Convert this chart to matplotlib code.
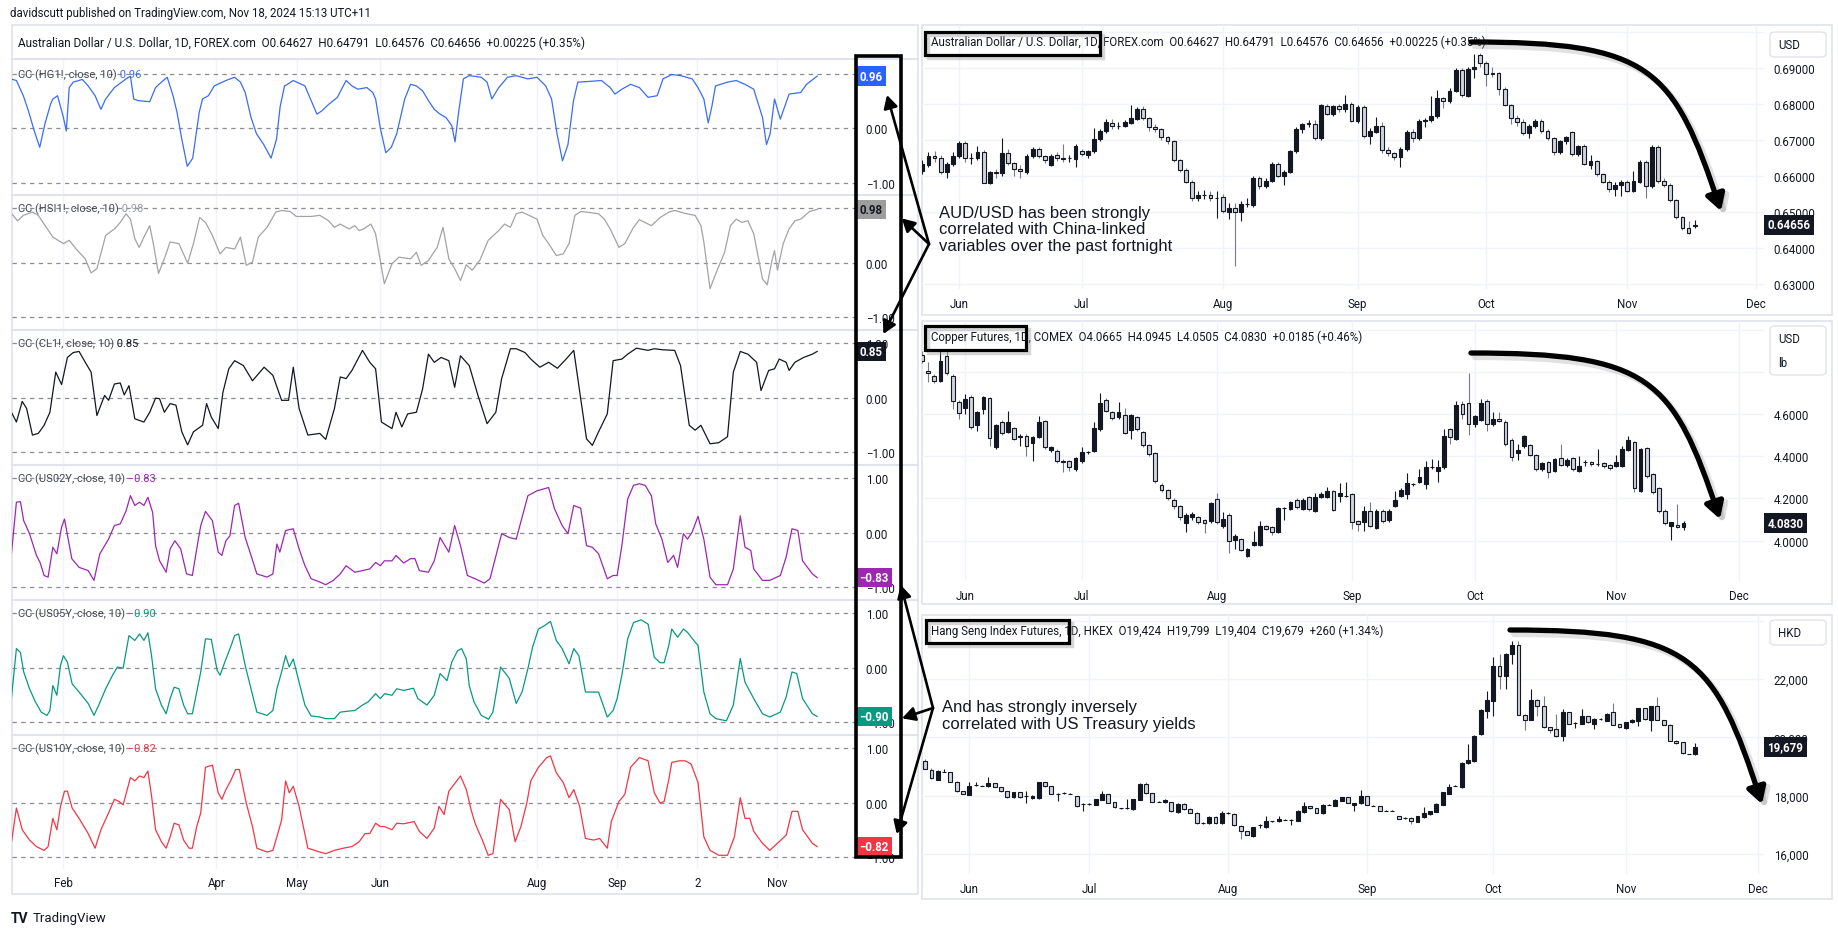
import numpy as np
import pandas as pd
import matplotlib
matplotlib.use("Agg")
import matplotlib.pyplot as plt
from matplotlib.patches import Rectangle, FancyArrowPatch, FancyBboxPatch
from matplotlib.path import Path
from matplotlib.transforms import blended_transform_factory, ScaledTranslation

# ============================ DATA ============================
# AUD/USD daily candles (open, high, low, close) from 2024-05-24 to 2024-11-18
aud_start = "2024-05-24"
aud_holidays = []
aud_ohlc = [
(0.6616,0.6645,0.6605,0.6634),(0.6630,0.6667,0.6625,0.6657),(0.6656,0.6670,0.6640,0.6651),(0.6650,0.6660,0.6605,0.6611),
(0.6611,0.6640,0.6595,0.6634),(0.6634,0.6668,0.6628,0.6657),(0.6656,0.6697,0.6650,0.6692),(0.6692,0.6697,0.6640,0.6650),
(0.6650,0.6665,0.6635,0.6651),(0.6650,0.6685,0.6645,0.6667),(0.6667,0.6672,0.6580,0.6582),(0.6582,0.6615,0.6578,0.6611),
(0.6611,0.6620,0.6595,0.6609),(0.6609,0.6706,0.6600,0.6664),(0.6664,0.6675,0.6630,0.6637),(0.6637,0.6640,0.6600,0.6619),
(0.6619,0.6630,0.6595,0.6616),(0.6613,0.6662,0.6605,0.6657),(0.6657,0.6680,0.6650,0.6676),(0.6676,0.6682,0.6650,0.6657),
(0.6657,0.6660,0.6638,0.6644),(0.6632,0.6662,0.6628,0.6657),(0.6659,0.6668,0.6642,0.6650),(0.6650,0.6690,0.6639,0.6649),
(0.6650,0.6660,0.6640,0.6651),(0.6648,0.6690,0.6625,0.6685),(0.6669,0.6675,0.6655,0.6662),(0.6660,0.6672,0.6650,0.6669),
(0.6669,0.6734,0.6665,0.6704),(0.6704,0.6732,0.6698,0.6727),(0.6727,0.6760,0.6720,0.6750),(0.6748,0.6760,0.6730,0.6739),
(0.6740,0.6752,0.6730,0.6741),(0.6741,0.6755,0.6738,0.6750),(0.6748,0.6799,0.6745,0.6761),(0.6759,0.6792,0.6755,0.6787),
(0.6787,0.6795,0.6755,0.6761),(0.6761,0.6765,0.6725,0.6736),(0.6736,0.6745,0.6722,0.6731),(0.6731,0.6735,0.6702,0.6708),
(0.6708,0.6712,0.6690,0.6697),(0.6697,0.6700,0.6640,0.6644),(0.6644,0.6648,0.6612,0.6618),(0.6618,0.6622,0.6580,0.6583),
(0.6583,0.6590,0.6530,0.6539),(0.6539,0.6560,0.6530,0.6548),(0.6549,0.6562,0.6537,0.6549),(0.6549,0.6558,0.6530,0.6539),
(0.6539,0.6560,0.6483,0.6539),(0.6542,0.6550,0.6498,0.6503),(0.6502,0.6525,0.6480,0.6511),(0.6511,0.6525,0.6352,0.6502),
(0.6500,0.6530,0.6477,0.6523),(0.6523,0.6540,0.6515,0.6524),(0.6520,0.6600,0.6515,0.6594),(0.6594,0.6600,0.6565,0.6572),
(0.6572,0.6595,0.6568,0.6588),(0.6588,0.6640,0.6585,0.6634),(0.6634,0.6640,0.6598,0.6602),(0.6602,0.6618,0.6575,0.6613),
(0.6613,0.6674,0.6608,0.6669),(0.6669,0.6736,0.6665,0.6731),(0.6730,0.6748,0.6720,0.6746),(0.6746,0.6755,0.6738,0.6747),
(0.6745,0.6755,0.6700,0.6706),(0.6706,0.6800,0.6700,0.6798),(0.6796,0.6800,0.6770,0.6773),(0.6773,0.6798,0.6768,0.6794),
(0.6794,0.6800,0.6780,0.6787),(0.6787,0.6826,0.6780,0.6801),(0.6801,0.6806,0.6750,0.6753),(0.6753,0.6798,0.6748,0.6793),
(0.6793,0.6798,0.6705,0.6713),(0.6713,0.6735,0.6690,0.6727),(0.6724,0.6765,0.6720,0.6741),(0.6741,0.6750,0.6665,0.6673),
(0.6673,0.6680,0.6655,0.6665),(0.6665,0.6668,0.6645,0.6654),(0.6653,0.6680,0.6625,0.6676),(0.6676,0.6728,0.6670,0.6722),
(0.6722,0.6730,0.6695,0.6706),(0.6706,0.6758,0.6700,0.6754),(0.6754,0.6762,0.6738,0.6755),(0.6755,0.6822,0.6750,0.6767),
(0.6767,0.6839,0.6762,0.6817),(0.6817,0.6820,0.6790,0.6808),(0.6808,0.6845,0.6805,0.6838),(0.6838,0.6900,0.6835,0.6894),
(0.6894,0.6900,0.6820,0.6826),(0.6824,0.6903,0.6820,0.6898),(0.6897,0.6940,0.6872,0.6903),(0.6938,0.6942,0.6905,0.6915),
(0.6915,0.6920,0.6850,0.6884),(0.6886,0.6905,0.6875,0.6885),(0.6886,0.6890,0.6825,0.6843),(0.6843,0.6848,0.6795,0.6798),
(0.6798,0.6800,0.6745,0.6761),(0.6761,0.6770,0.6740,0.6750),(0.6750,0.6760,0.6715,0.6720),(0.6720,0.6745,0.6705,0.6741),
(0.6741,0.6760,0.6735,0.6754),(0.6754,0.6758,0.6720,0.6727),(0.6727,0.6730,0.6700,0.6706),(0.6706,0.6710,0.6660,0.6667),
(0.6667,0.6700,0.6662,0.6697),(0.6697,0.6712,0.6690,0.6708),(0.6722,0.6725,0.6655,0.6661),(0.6661,0.6688,0.6655,0.6683),
(0.6683,0.6690,0.6630,0.6634),(0.6632,0.6660,0.6620,0.6642),(0.6642,0.6645,0.6600,0.6607),(0.6607,0.6610,0.6580,0.6583),
(0.6583,0.6590,0.6555,0.6565),(0.6565,0.6585,0.6545,0.6576),(0.6576,0.6590,0.6545,0.6583),(0.6583,0.6590,0.6555,0.6560),
(0.6560,0.6615,0.6555,0.6587),(0.6585,0.6645,0.6580,0.6641),(0.6639,0.6645,0.6540,0.6572),(0.6572,0.6688,0.6568,0.6681),
(0.6681,0.6688,0.6580,0.6587),(0.6587,0.6595,0.6570,0.6576),(0.6576,0.6580,0.6528,0.6534),(0.6534,0.6538,0.6480,0.6486),
(0.6486,0.6490,0.6450,0.6456),(0.6456,0.6475,0.6440,0.6443),(0.64627,0.64791,0.64576,0.64656),
]

# Copper futures daily candles from 2024-05-22 to 2024-11-18 (CME holidays skipped)
cu_start = "2024-05-22"
cu_holidays = ["2024-05-27", "2024-06-19", "2024-07-04", "2024-09-02", "2024-11-28", "2024-12-25"]
cu_ohlc = [
(4.880,4.900,4.840,4.850),(4.802,4.845,4.750,4.794),(4.779,4.790,4.745,4.755),(4.758,4.900,4.750,4.853),
(4.876,4.908,4.785,4.794),(4.782,4.790,4.624,4.663),(4.658,4.665,4.576,4.605),(4.627,4.695,4.600,4.671),
(4.682,4.690,4.530,4.537),(4.549,4.615,4.521,4.608),(4.624,4.685,4.600,4.679),(4.674,4.680,4.450,4.486),
(4.442,4.555,4.435,4.549),(4.561,4.570,4.500,4.510),(4.516,4.616,4.510,4.564),(4.532,4.540,4.475,4.482),
(4.489,4.505,4.450,4.497),(4.497,4.505,4.403,4.450),(4.463,4.495,4.379,4.489),(4.489,4.589,4.485,4.561),
(4.565,4.570,4.435,4.442),(4.429,4.450,4.420,4.442),(4.426,4.435,4.370,4.379),(4.376,4.385,4.327,4.374),
(4.376,4.382,4.330,4.347),(4.339,4.395,4.330,4.390),(4.376,4.442,4.370,4.418),(4.418,4.425,4.410,4.418),
(4.426,4.564,4.420,4.534),(4.529,4.700,4.518,4.652),(4.668,4.675,4.610,4.616),(4.608,4.615,4.570,4.579),
(4.584,4.655,4.578,4.608),(4.595,4.627,4.505,4.510),(4.526,4.600,4.482,4.595),(4.584,4.590,4.520,4.529),
(4.513,4.520,4.445,4.453),(4.455,4.460,4.400,4.410),(4.414,4.420,4.275,4.281),(4.264,4.275,4.230,4.238),
(4.238,4.245,4.192,4.200),(4.194,4.200,4.150,4.162),(4.166,4.170,4.100,4.110),(4.082,4.130,4.039,4.123),
(4.110,4.135,4.100,4.126),(4.110,4.118,4.080,4.087),(4.098,4.105,4.036,4.082),(4.091,4.185,4.085,4.178),
(4.197,4.226,4.080,4.087),(4.068,4.137,4.060,4.102),(4.121,4.130,3.941,3.998),(4.003,4.030,3.960,4.023),
(4.008,4.015,3.950,3.957),(3.929,3.965,3.925,3.960),(3.979,4.047,3.975,3.992),(3.979,4.091,3.975,4.068),
(4.068,4.075,4.050,4.055),(4.063,4.070,4.025,4.039),(4.042,4.160,4.035,4.153),(4.153,4.160,4.099,4.153),
(4.150,4.190,4.145,4.181),(4.194,4.200,4.150,4.158),(4.150,4.200,4.145,4.192),(4.205,4.210,4.140,4.150),
(4.140,4.226,4.135,4.205),(4.205,4.230,4.200,4.221),(4.205,4.252,4.200,4.237),(4.233,4.240,4.140,4.147),
(4.213,4.273,4.181,4.224),(4.213,4.276,4.205,4.213),(4.221,4.228,4.055,4.090),(4.091,4.098,4.047,4.079),
(4.087,4.166,4.047,4.139),(4.139,4.181,4.065,4.071),(4.060,4.150,4.055,4.142),(4.142,4.150,4.085,4.094),
(4.099,4.148,4.090,4.142),(4.166,4.237,4.160,4.194),(4.210,4.250,4.205,4.241),(4.221,4.320,4.197,4.273),
(4.268,4.275,4.260,4.268),(4.279,4.339,4.275,4.300),(4.268,4.379,4.245,4.347),(4.347,4.387,4.340,4.347),
(4.331,4.382,4.279,4.347),(4.347,4.529,4.340,4.494),(4.529,4.535,4.458,4.489),(4.482,4.663,4.475,4.643),
(4.647,4.663,4.576,4.600),(4.652,4.794,4.500,4.553),(4.553,4.595,4.537,4.589),(4.573,4.671,4.565,4.652),
(4.663,4.670,4.521,4.553),(4.553,4.608,4.545,4.576),(4.576,4.608,4.560,4.565),(4.561,4.570,4.450,4.458),
(4.477,4.485,4.379,4.398),(4.415,4.458,4.384,4.429),(4.447,4.500,4.440,4.494),(4.453,4.460,4.400,4.406),
(4.406,4.410,4.330,4.339),(4.339,4.375,4.330,4.368),(4.371,4.378,4.295,4.324),(4.331,4.393,4.325,4.387),
(4.390,4.458,4.355,4.360),(4.360,4.390,4.350,4.382),(4.391,4.398,4.330,4.339),(4.331,4.399,4.325,4.355),
(4.371,4.380,4.355,4.371),(4.371,4.378,4.355,4.363),(4.365,4.434,4.355,4.365),(4.366,4.372,4.345,4.352),
(4.358,4.365,4.335,4.342),(4.355,4.406,4.350,4.371),(4.355,4.447,4.350,4.434),(4.431,4.494,4.425,4.477),
(4.466,4.472,4.229,4.248),(4.237,4.440,4.230,4.434),(4.439,4.445,4.298,4.305),(4.316,4.320,4.222,4.229),
(4.248,4.252,4.132,4.139),(4.142,4.150,4.076,4.083),(4.071,4.090,4.004,4.087),(4.076,4.174,4.058,4.0645),
(4.0665,4.0945,4.0505,4.0830),
]

# Hang Seng Index futures daily candles from 2024-05-23 to 2024-11-18 (HKEX holidays skipped)
hsi_start = "2024-05-23"
hsi_holidays = ["2024-06-10", "2024-07-01", "2024-09-18", "2024-10-01", "2024-10-11", "2024-12-25", "2024-12-26"]
hsi_ohlc = [
(19200,19250,18900,18914),(18891,18950,18580,18605),(18548,18880,18520,18857),(18822,18900,18800,18822),
(18800,18820,18460,18480),(18480,18500,18120,18148),(18148,18170,18040,18057),(18034,18480,18010,18342),
(18365,18480,18340,18365),(18342,18370,18320,18340),(18320,18628,18300,18434),(18422,18440,18290,18308),
(18285,18300,18130,18148),(18148,18160,17920,17942),(17942,18130,17920,18114),(18114,18130,17920,17942),
(18000,18171,17748,18000),(17908,18020,17890,18000),(17908,18480,17890,18457),(18457,18480,18300,18320),
(18320,18330,18040,18057),(18057,18080,17828,18057),(18091,18120,18070,18091),(18057,18090,18040,18057),
(17977,17990,17620,17634),(17714,17730,17485,17714),(17714,17740,17690,17714),(17691,17900,17670,17885),
(17862,18148,17850,18057),(18057,18070,17730,17748),(17771,17790,17580,17600),(17565,17590,17540,17565),
(17565,17885,17540,17565),(17542,17900,17520,17885),(17862,18420,17850,18400),(18400,18457,18070,18091),
(18091,18100,17780,17794),(17794,17810,17770,17794),(17771,17880,17750,17862),(17771,17790,17440,17462),
(17428,17730,17400,17714),(17714,17730,17520,17542),(17542,17560,17390,17405),(17405,17420,17030,17051),
(17060,17080,17040,17060),(17051,17300,17030,17279),(17279,17300,17030,17051),(17051,17485,17030,17405),
(17405,17430,17380,17405),(17371,17390,16970,16994),(16971,16990,16514,16777),(16777,16800,16640,16663),
(16605,16930,16580,16914),(16994,17010,16879,16994),(16914,17291,16900,17119),(17119,17140,17100,17119),
(17119,17314,17100,17199),(17165,17180,17150,17165),(17177,17190,16994,17177),(17142,17500,17120,17485),
(17428,17771,17410,17634),(17634,17650,17550,17565),(17565,17580,17390,17405),(17394,17710,17380,17691),
(17691,17720,17670,17691),(17657,17870,17640,17851),(17828,17960,17810,17943),(17943,17960,17730,17748),
(17680,17760,17486,17748),(17737,18194,17720,17977),(17977,17990,17660,17680),(17657,17680,17640,17657),
(17634,17650,17460,17486),(17486,17510,17460,17486),(17486,17500,17470,17486),(17291,17310,17180,17200),
(17234,17250,17210,17234),(17234,17250,17028,17131),(17108,17310,17090,17291),(17257,17600,17240,17394),
(17371,17480,17350,17463),(17451,17730,17430,17714),(17691,18130,17680,18114),(18057,18400,18040,18308),
(18343,18360,18320,18343),(18285,19140,18270,19120),(19120,19771,19100,19234),(19177,20080,19150,20057),
(20114,20960,20090,20937),(20914,21600,20651,21291),(21257,22743,20720,22457),(22457,22857,21657,22114),
(22114,22880,21657,22857),(22857,23314,22514,23166),(23166,23314,20760,20777),(20777,20800,20263,20606),
(20606,21657,20590,21280),(21280,21300,20743,21063),(21063,21429,20320,20343),(20343,20360,20148,20263),
(20286,20800,20010,20034),(20034,20971,19886,20857),(20857,20880,20440,20457),(20491,20510,20308,20491),
(20457,20971,20440,20720),(20720,20740,20500,20514),(20457,20650,20286,20628),(20628,20650,20610,20628),
(20571,20820,20550,20800),(20857,21177,20420,20434),(20457,20470,20330,20343),(20320,20530,20300,20514),
(20514,20620,20500,20606),(20571,21010,20400,20994),(20994,21010,20610,20628),(20606,21080,20228,21063),
(21063,21371,20580,20594),(20594,20610,20420,20434),(20434,20450,19870,19886),(19886,19900,19780,19794),
(19828,19840,19430,19451),(19428,19440,19410,19419),(19424,19799,19404,19679),
]

# 10-day correlation coefficients of AUD/USD with each series: (trading day counted from 2024-02-01, value)
corr_origin = "2024-02-01"
hg_pts = [(-14.5,0.91),(-12.9,0.88),(-11.0,0.60),(-9.5,0.30),(-8.0,-0.05),(-6.5,-0.35),(-5.0,0.10),(-3.5,0.45),(-2.9,0.54),(-1.6,0.60),(0.0,0.20),(0.8,-0.05),(1.6,0.75),(2.7,0.85),(5.2,0.90),(6.8,0.78),(8.7,0.60),(10.3,0.35),(11.6,0.54),(14.0,0.75),(15.6,0.83),(17.2,0.91),(18.4,0.96),(19.3,0.54),(20.5,0.51),(23.7,0.49),(25.3,0.75),(26.9,0.85),(28.5,0.94),(30.1,0.60),(31.2,0.29),(32.5,-0.20),(34.0,-0.70),(35.5,-0.55),(37.3,0.30),(38.2,0.54),(39.8,0.60),(41.4,0.78),(44.6,0.88),(47.0,0.94),(48.6,0.85),(49.9,0.66),(51.5,0.20),(53.0,-0.10),(55.0,-0.30),(57.0,-0.55),(58.5,-0.20),(59.5,0.40),(60.7,0.78),(61.5,0.81),(63.1,0.88),(66.3,0.78),(69.6,0.26),(70.9,0.32),(72.8,0.44),(75.2,0.57),(77.6,0.88),(79.2,0.78),(80.8,0.72),(83.3,0.75),(84.9,0.66),(85.7,0.54),(87.0,0.00),(88.5,-0.45),(90.0,-0.35),(91.5,-0.10),(93.7,0.54),(95.3,0.81),(96.9,0.78),(98.6,0.69),(100.2,0.51),(101.8,0.35),(103.4,0.26),(105.0,0.20),(106.6,0.05),(107.5,-0.25),(108.5,0.30),(109.8,0.91),(111.4,0.97),(114.7,0.94),(116.3,0.85),(117.6,0.54),(119.5,0.75),(121.9,0.94),(124.3,0.97),(127.5,0.91),(130.0,0.94),(132.4,0.78),(134.0,0.54),(135.5,-0.10),(137.0,-0.60),(138.5,-0.30),(140.0,0.50),(141.2,0.85),(143.6,0.86),(147.7,0.88),(150.1,0.75),(151.4,0.63),(153.3,0.72),(155.7,0.81),(158.1,0.75),(160.5,0.57),(163.0,0.60),(164.6,0.91),(167.0,0.99),(169.4,0.97),(172.6,0.91),(174.2,0.75),(175.8,0.54),(177.0,0.10),(178.0,0.40),(179.0,0.78),(182.3,0.85),(184.7,0.88),(187.1,0.81),(189.5,0.72),(191.9,0.20),(193.0,-0.30),(194.0,-0.10),(195.2,0.54),(196.8,0.17),(199.2,0.63),(202.4,0.66),(204.0,0.81),(206.9,0.96)]
hsi_pts = [(-14.5,0.93),(-12.6,0.77),(-11.0,0.87),(-8.5,0.93),(-6.9,0.87),(-5.3,0.71),(-2.9,0.47),(0.0,0.35),(1.6,0.41),(3.5,0.25),(6.0,0.07),(7.6,-0.19),(9.2,-0.11),(11.6,0.50),(14.0,0.62),(15.6,0.74),(17.2,0.90),(18.4,0.80),(19.6,0.44),(20.8,0.28),(22.1,0.47),(23.7,0.68),(24.8,0.31),(26.1,-0.20),(27.7,0.07),(29.3,0.38),(31.7,0.35),(34.1,-0.01),(35.7,0.35),(37.4,0.83),(39.0,0.74),(40.9,0.50),(43.0,0.16),(44.6,0.28),(47.0,0.25),(48.6,0.47),(50.2,-0.05),(51.9,0.01),(53.5,0.47),(55.9,0.65),(58.3,0.93),(59.9,0.96),(62.3,0.94),(63.9,0.85),(68.0,0.85),(70.4,0.87),(72.8,0.77),(74.4,0.65),(76.0,0.71),(78.4,0.62),(80.0,0.68),(81.2,0.59),(82.4,0.62),(84.4,0.71),(85.7,0.53),(88.1,-0.39),(90.2,-0.02),(92.1,0.10),(95.3,0.07),(96.9,0.19),(98.2,-0.05),(100.2,0.04),(102.6,0.28),(104.2,0.65),(105.8,0.07),(107.4,-0.11),(109.0,-0.33),(110.6,-0.04),(112.2,-0.14),(114.3,0.04),(116.6,0.41),(119.5,0.59),(121.1,0.71),(122.7,0.65),(124.3,0.90),(125.9,0.93),(127.5,0.88),(130.0,0.80),(131.6,0.50),(133.2,0.35),(135.3,0.13),(137.2,0.16),(138.8,0.35),(140.4,0.87),(142.0,0.94),(143.6,0.93),(146.9,0.90),(148.5,0.80),(150.1,0.62),(152.5,0.28),(154.1,0.35),(156.5,0.65),(158.1,0.79),(161.4,0.68),(163.8,0.83),(166.2,0.93),(167.8,0.96),(171.0,0.90),(173.4,0.87),(175.0,0.68),(175.8,0.38),(177.5,-0.48),(179.1,-0.20),(181.5,0.19),(183.1,0.68),(184.7,0.80),(186.3,0.74),(187.9,0.77),(189.5,0.53),(191.9,-0.30),(193.2,-0.41),(194.4,0.01),(195.2,0.22),(196.0,-0.14),(197.6,0.35),(199.2,0.62),(200.8,0.77),(202.4,0.80),(204.8,0.94),(206.9,0.98)]
cl_pts = [(-14.5,-0.24),(-12.9,-0.45),(-11.3,-0.07),(-10.1,-0.20),(-8.5,-0.69),(-6.9,-0.66),(-5.3,-0.51),(-3.7,-0.27),(-2.1,0.47),(-0.5,0.24),(1.1,0.74),(2.7,0.83),(4.3,0.85),(6.0,0.65),(7.6,0.47),(9.2,-0.33),(11.3,0.04),(12.4,-0.05),(14.0,0.25),(15.6,0.27),(16.7,0.05),(18.0,0.22),(19.6,-0.39),(22.1,-0.45),(23.7,-0.27),(25.3,-0.01),(26.4,-0.02),(27.7,-0.27),(29.3,-0.11),(30.9,-0.14),(32.5,-0.63),(34.1,-0.87),(35.7,-0.63),(38.2,-0.51),(39.3,-0.11),(40.6,-0.36),(42.5,-0.57),(43.8,0.10),(45.4,0.53),(47.0,0.68),(49.4,0.59),(51.9,0.31),(55.1,0.56),(57.5,0.41),(59.9,-0.05),(61.8,-0.05),(63.1,0.56),(64.7,-0.20),(67.1,-0.69),(70.4,-0.66),(72.0,-0.77),(74.4,-0.20),(76.0,0.38),(77.6,0.35),(79.2,0.50),(82.1,0.87),(84.1,0.65),(85.7,0.53),(87.3,-0.45),(90.2,-0.57),(91.3,-0.27),(92.9,-0.54),(94.5,-0.30),(96.9,-0.27),(98.6,0.16),(100.2,0.80),(101.8,0.65),(103.7,0.74),(105.8,0.68),(107.4,0.19),(109.0,0.77),(111.4,0.59),(113.8,0.04),(116.3,-0.48),(118.7,-0.27),(120.3,0.35),(122.7,0.90),(124.3,0.90),(126.7,0.83),(128.3,0.71),(130.8,0.56),(133.2,0.65),(135.6,0.54),(138.0,0.71),(140.1,0.87),(142.0,-0.02),(143.6,-0.76),(145.2,-0.88),(146.9,-0.63),(149.3,-0.30),(150.9,0.68),(153.3,0.71),(154.9,0.80),(157.3,0.91),(160.5,0.87),(162.2,0.90),(164.6,0.88),(167.8,0.87),(169.4,0.59),(171.8,-0.51),(173.4,-0.60),(175.0,-0.51),(177.5,-0.85),(179.9,-0.83),(182.3,-0.72),(183.9,0.47),(185.8,0.85),(187.9,0.80),(190.3,0.65),(191.5,0.13),(193.6,0.50),(195.2,0.53),(196.5,0.71),(198.4,0.65),(199.2,0.50),(200.8,0.65),(203.2,0.74),(205.6,0.80),(206.9,0.85)]
us02_pts = [(-14.5,-0.55),(-12.9,0.56),(-11.8,0.57),(-10.9,0.22),(-9.3,-0.02),(-7.4,-0.42),(-6.4,-0.55),(-5.3,-0.79),(-4.2,-0.82),(-2.9,-0.27),(-1.8,-0.39),(-0.5,0.10),(0.3,0.25),(2.3,-0.48),(4.3,-0.64),(6.8,-0.70),(8.4,-0.88),(10.0,-0.39),(12.4,-0.12),(14.0,0.13),(15.6,0.16),(17.2,0.40),(18.4,0.68),(19.6,0.50),(20.9,0.56),(22.1,0.50),(23.2,0.65),(24.5,0.37),(25.3,-0.24),(26.4,-0.52),(28.2,-0.73),(29.3,-0.30),(30.6,-0.15),(32.2,-0.30),(33.8,-0.76),(35.4,-0.79),(36.6,-0.30),(37.7,0.13),(39.0,0.39),(40.9,0.22),(42.5,-0.36),(43.5,-0.42),(44.6,-0.15),(45.7,-0.06),(47.0,0.50),(48.1,0.54),(49.9,-0.09),(51.5,-0.42),(53.1,-0.76),(55.9,-0.82),(57.5,-0.76),(58.6,-0.21),(59.4,-0.36),(61.0,0.04),(63.1,0.07),(64.7,-0.30),(66.3,-0.61),(68.0,-0.85),(70.4,-0.91),(72.0,-0.96),(74.1,-0.88),(76.0,-0.76),(77.6,-0.61),(80.0,-0.73),(82.1,-0.70),(84.1,-0.67),(85.7,-0.55),(87.0,-0.61),(88.1,-0.52),(90.2,-0.52),(91.3,-0.42),(93.4,-0.56),(95.3,-0.48),(96.5,-0.48),(97.7,-0.70),(100.2,-0.73),(101.8,-0.52),(103.4,-0.09),(105.8,-0.36),(107.4,0.13),(109.0,-0.24),(110.9,-0.79),(113.0,-0.85),(115.5,-0.93),(117.1,-0.85),(120.3,-0.02),(122.4,-0.09),(124.3,-0.12),(125.9,0.28),(127.5,0.68),(130.0,0.77),(131.6,0.80),(133.2,0.83),(134.8,0.44),(136.9,0.13),(138.5,-0.02),(140.1,0.50),(142.0,0.45),(143.6,-0.24),(145.2,-0.27),(146.9,-0.39),(149.3,-0.85),(150.9,-0.79),(152.0,-0.79),(153.3,-0.24),(154.9,0.62),(156.5,0.87),(158.1,0.90),(159.7,0.87),(161.4,0.68),(162.6,0.16),(164.3,-0.12),(165.9,-0.55),(167.5,-0.42),(168.6,-0.64),(170.2,-0.02),(171.3,-0.12),(172.6,0.01),(174.2,0.30),(175.8,-0.12),(177.5,-0.82),(179.1,-0.96),(182.3,-0.96),(183.9,-0.67),(185.8,0.31),(187.1,-0.27),(188.7,-0.33),(189.5,-0.67),(191.9,-0.88),(193.9,-0.88),(196.8,-0.79),(198.4,-0.45),(200.0,0.07),(201.6,0.04),(202.9,-0.52),(205.6,-0.76),(206.9,-0.83)]
us05_pts = [(-14.5,-0.72),(-12.9,0.35),(-11.8,0.28),(-10.9,-0.08),(-9.3,-0.39),(-7.7,-0.63),(-6.1,-0.82),(-4.5,-0.88),(-3.7,-0.79),(-2.9,-0.33),(-1.8,-0.51),(-0.8,0.04),(0.0,0.22),(1.1,0.10),(2.4,-0.30),(4.3,-0.45),(6.8,-0.66),(8.4,-0.88),(9.7,-0.69),(11.6,-0.39),(13.5,-0.14),(14.8,0.01),(16.4,-0.01),(18.0,0.59),(19.6,0.50),(20.9,0.62),(22.1,0.50),(23.2,0.64),(24.2,0.22),(25.3,-0.39),(26.9,-0.69),(28.2,-0.85),(29.3,-0.57),(30.4,-0.36),(31.7,-0.39),(33.0,-0.69),(34.1,-0.85),(35.4,-0.85),(36.6,-0.45),(37.7,-0.08),(39.0,0.53),(40.6,0.52),(42.2,-0.05),(43.0,-0.14),(44.3,0.10),(45.9,0.38),(47.0,0.59),(48.1,0.62),(49.9,0.04),(51.5,-0.39),(53.1,-0.82),(55.9,-0.88),(57.5,-0.79),(58.6,-0.39),(59.9,-0.08),(61.0,0.22),(62.0,0.01),(63.1,0.16),(64.7,-0.27),(66.3,-0.69),(68.0,-0.89),(70.4,-0.91),(72.0,-0.94),(74.4,-0.94),(76.0,-0.82),(78.4,-0.80),(80.0,-0.79),(82.1,-0.69),(83.7,-0.63),(85.7,-0.48),(87.0,-0.57),(88.2,-0.48),(90.2,-0.51),(91.5,-0.39),(93.4,-0.42),(96.1,-0.38),(97.3,-0.57),(99.8,-0.69),(101.8,-0.51),(103.4,-0.11),(105.3,-0.24),(106.6,0.10),(108.2,0.31),(109.3,0.35),(110.6,0.16),(111.4,-0.33),(112.7,-0.63),(114.7,-0.88),(116.7,-0.95),(117.9,-0.82),(120.0,0.01),(122.4,-0.20),(124.3,-0.66),(125.9,-0.45),(127.5,-0.02),(128.8,0.38),(130.4,0.71),(132.0,0.77),(133.7,0.85),(135.3,0.50),(136.9,0.35),(138.8,0.07),(140.1,0.35),(141.5,0.22),(143.3,-0.45),(145.2,-0.45),(146.9,-0.45),(149.3,-0.91),(150.9,-0.79),(152.0,-0.57),(153.3,-0.14),(154.9,0.53),(156.5,0.83),(158.6,0.88),(160.5,0.80),(162.2,0.19),(163.8,0.09),(164.9,0.09),(166.2,0.41),(167.0,0.71),(168.6,0.56),(170.2,0.71),(171.3,0.65),(173.4,0.47),(174.2,0.41),(175.8,-0.45),(177.5,-0.85),(179.1,-0.94),(182.0,-0.98),(183.9,-0.69),(185.8,0.17),(187.1,-0.27),(189.5,-0.57),(191.9,-0.85),(193.9,-0.91),(196.8,-0.82),(198.4,-0.54),(200.0,-0.08),(201.3,-0.11),(202.9,-0.57),(205.6,-0.85),(206.9,-0.90)]
us10_pts = [(-14.5,-0.84),(-12.9,-0.10),(-11.3,-0.50),(-9.3,-0.69),(-7.4,-0.81),(-5.3,-0.88),(-4.2,-0.81),(-2.9,-0.29),(-1.8,-0.50),(-0.8,-0.07),(0.3,0.21),(1.1,0.21),(2.4,-0.10),(4.3,-0.29),(6.8,-0.57),(8.7,-0.84),(10.3,-0.50),(12.4,-0.19),(14.0,0.06),(15.3,0.02),(16.4,-0.04),(18.4,0.46),(19.6,0.40),(20.9,0.49),(22.1,0.46),(23.2,0.58),(24.2,0.12),(25.3,-0.50),(26.9,-0.72),(28.2,-0.84),(29.3,-0.63),(30.4,-0.38),(31.7,-0.41),(33.0,-0.69),(34.5,-0.84),(35.4,-0.84),(36.6,-0.44),(37.7,-0.19),(39.0,0.65),(40.9,0.69),(42.5,0.18),(43.5,0.06),(44.6,0.24),(45.9,0.40),(47.3,0.61),(48.3,0.61),(50.2,-0.01),(51.9,-0.44),(53.1,-0.84),(55.9,-0.91),(57.5,-0.88),(58.6,-0.63),(59.9,-0.32),(61.0,0.40),(62.0,0.18),(63.1,0.30),(64.7,-0.07),(67.1,-0.84),(70.4,-0.91),(72.0,-0.94),(74.4,-0.88),(76.8,-0.84),(79.2,-0.81),(81.2,-0.72),(82.8,-0.57),(84.1,-0.57),(85.7,-0.38),(87.0,-0.44),(88.1,-0.44),(90.2,-0.50),(91.5,-0.38),(93.4,-0.39),(96.3,-0.35),(97.7,-0.53),(99.8,-0.66),(101.8,-0.47),(103.1,-0.07),(104.5,-0.22),(105.8,0.21),(109.0,0.49),(110.6,0.24),(111.9,-0.13),(113.0,-0.38),(115.0,-0.69),(116.6,-0.97),(117.9,-0.94),(120.0,0.06),(122.4,-0.13),(124.0,-0.72),(125.6,-0.44),(127.2,-0.01),(128.3,0.40),(130.4,0.65),(132.7,0.83),(133.7,0.86),(135.3,0.55),(137.2,0.37),(138.8,0.09),(140.1,0.24),(141.7,-0.07),(143.3,-0.66),(145.6,-0.69),(147.2,-0.66),(149.3,-0.84),(150.4,-0.35),(152.5,0.02),(154.1,0.15),(155.7,0.65),(158.1,0.83),(160.5,0.77),(162.2,0.18),(163.8,-0.01),(164.9,0.02),(166.2,0.43),(167.0,0.74),(169.1,0.77),(170.7,0.77),(172.3,0.71),(174.2,0.37),(175.8,-0.63),(177.5,-0.88),(179.9,-0.97),(182.3,-0.97),(184.2,-0.63),(185.8,0.09),(187.1,-0.29),(188.4,-0.29),(189.5,-0.53),(191.9,-0.75),(193.9,-0.88),(196.0,-0.75),(198.4,-0.60),(200.0,-0.16),(201.6,-0.16),(202.9,-0.50),(205.6,-0.75),(206.9,-0.81)]

corr_series = [
    ("HG1!", hg_pts, "0.96"),
    ("HSI1!", hsi_pts, "0.98"),
    ("CL1!", cl_pts, "0.85"),
    ("US02Y", us02_pts, "\u22120.83"),
    ("US05Y", us05_pts, "\u22120.90"),
    ("US10Y", us10_pts, "\u22120.82"),
]
# price-axis levels shown for each correlation pane (1.00 is hidden behind the value tag on the first two)
corr_axis_levels = [[0, -1], [0, -1], [1, 0, -1], [1, 0, -1], [1, 0, -1], [1, 0, -1]]
left_tick_dates = ["2024-02-01", "2024-04-01", "2024-05-01", "2024-06-03", "2024-08-01", "2024-09-02", "2024-10-02", "2024-11-01"]
left_tick_labels = ["Feb", "Apr", "May", "Jun", "Aug", "Sep", "2", "Nov"]
month_labels = ["Jun", "Jul", "Aug", "Sep", "Oct", "Nov", "Dec"]

# ============================ STYLE ============================
W, H = 1838, 937
FONT = ["Roboto", "DejaVu Sans"]
plt.rcParams["font.family"] = FONT
TXT = "#131722"
GRID = "#f0f3fa"
FRAME = "#e0e3eb"
DASH = "#8a8d96"
line_colors = ["#3a6cf4", "#a3a3a3", "#131722", "#9c27b0", "#089981", "#f23645"]
box_face = ["#2962ff", "#9e9e9e", "#131722", "#9c27b0", "#089981", "#f23645"]
box_text = ["white", TXT, "white", "white", "white", "white"]

fig = plt.figure(figsize=(W / 100, H / 100), dpi=100)
fig.patch.set_facecolor("white")


def fx(x):
    return x / W


def fy(y):
    return 1 - y / H


def add_ax(x0, y0, x1, y1):
    ax = fig.add_axes([fx(x0), fy(y1), (x1 - x0) / W, (y1 - y0) / H])
    for s in ax.spines.values():
        s.set_visible(False)
    ax.set_facecolor("none")
    return ax


def frame(x0, y0, x1, y1, color=FRAME, lw=1.2, z=0):
    fig.add_artist(Rectangle((fx(x0), fy(y1)), (x1 - x0) / W, (y1 - y0) / H,
                             transform=fig.transFigure, fill=False, ec=color, lw=lw, zorder=z))


def hline(y, x0, x1, color=FRAME, lw=1.5):
    fig.add_artist(plt.Line2D([fx(x0), fx(x1)], [fy(y), fy(y)], transform=fig.transFigure, color=color, lw=lw))


def fmt_level(v):
    return ("%.2f" % v).replace("-", "\u2212")


# ---------------- header ----------------
fig.text(fx(10), fy(14), "davidscutt published on TradingView.com, Nov 18, 2024 15:13 UTC+11",
         fontsize=8.3, color=TXT, va="center", ha="left")

# ---------------- left pane ----------------
frame(12, 26, 918, 895)
hline(60, 12, 918)
fig.text(fx(18), fy(43), "Australian Dollar / U.S. Dollar, 1D, FOREX.com  O0.64627  H0.64791  L0.64576  C0.64656  +0.00225 (+0.35%)",
         fontsize=8.5, color=TXT, va="center", ha="left")

left_all = pd.bdate_range("2024-01-01", "2024-12-31")
day0 = left_all.get_loc(pd.Timestamp(corr_origin))
left_ticks = [left_all.get_loc(pd.Timestamp(d)) - day0 for d in left_tick_dates]

SC = 54.3
top_lines = [75, 209.3, 344.3, 479.3, 614.3, 749.3]
for k, (sym, pts, val) in enumerate(corr_series):
    y1 = top_lines[k]
    ax = add_ax(12, y1 - 0.25 * SC, 856, y1 + 2.23 * SC)
    ax.set_xlim(-14.11, 217.57)
    ax.set_ylim(-1.23, 1.25)
    for t in left_ticks:
        ax.axvline(t, color=GRID, lw=1, zorder=0)
    for lv in (1, 0, -1):
        ax.axhline(lv, color=DASH, lw=0.9, ls=(0, (3.5, 3.5)), zorder=1)
    d = np.array(pts)
    ax.plot(d[:, 0], d[:, 1], color=line_colors[k], lw=0.9, zorder=3)
    ax.yaxis.tick_right()
    levels = corr_axis_levels[k]
    ax.set_yticks(levels)
    ax.set_yticklabels([fmt_level(v) for v in levels])
    ax.tick_params(axis="y", length=0, pad=7, labelsize=8.3, labelcolor=TXT)
    ax.set_xticks(left_ticks)
    if k == 5:
        ax.set_xticklabels(left_tick_labels)
        ax.tick_params(axis="x", length=0, pad=5, labelsize=8.3, labelcolor=TXT)
    else:
        ax.tick_params(axis="x", length=0, labelbottom=False)
    bt = blended_transform_factory(ax.transAxes, ax.transData)
    t1 = ax.annotate("CC (%s, close, 10)" % sym, xy=(0, 1.0), xycoords=bt, xytext=(4.5, 0),
                     textcoords="offset points", fontsize=8.0, color="#434651", va="center", ha="left")
    ax.annotate(" " + val, xy=(1, 0.5), xycoords=t1, va="center", ha="left", fontsize=8.0,
                color=line_colors[k] if k != 1 else "#9598a1")
    last = d[-1, 1]
    ax.annotate(val, xy=(1, last), xycoords=bt, xytext=(2.5, 0), textcoords="offset points",
                ha="left", va="center", fontsize=8.3, color=box_text[k], fontweight="bold",
                bbox=dict(boxstyle="square,pad=0.28", fc=box_face[k], ec="none"), annotation_clip=False, zorder=6)
    if k > 0:
        hline(y1 - 0.25 * SC, 12, 918, lw=1.5)

# TradingView logo
fig.text(fx(11), fy(919), "TV", fontsize=10, fontweight="bold", color=TXT, va="center", ha="left")
fig.text(fx(33), fy(919), "TradingView", fontsize=9.5, color=TXT, va="center", ha="left")


# ---------------- right panes ----------------
def draw_candles(ax, ohlc):
    a = np.array(ohlc, dtype=float)
    o, h, l, c = a[:, 0], a[:, 1], a[:, 2], a[:, 3]
    x = np.arange(len(a))
    up = c >= o
    ax.vlines(x[up], l[up], h[up], color=TXT, lw=0.8, zorder=2)
    ax.vlines(x[~up], l[~up], h[~up], color="#787b86", lw=0.8, zorder=2)
    lo = np.minimum(o, c)
    ht = np.abs(c - o)
    ax.bar(x[up], ht[up], bottom=lo[up], width=0.62, color=TXT, edgecolor=TXT, lw=0.8, zorder=3)
    ax.bar(x[~up], ht[~up], bottom=lo[~up], width=0.62, color="#d1d4dc", edgecolor=TXT, lw=0.8, zorder=3)


def month_ticks(start, holidays):
    dates = pd.bdate_range(start, "2024-12-31", freq="C", holidays=holidays)
    return [int(np.argmax(dates.month == m)) for m in range(6, 13)]


panes = [
    dict(ohlc=aud_ohlc, start=aud_start, hol=aud_holidays, y=(26, 290, 316), xlim=(-0.05, 137.3),
         ylim=(0.62869, 0.70203), grid=[0.63, 0.64, 0.65, 0.66, 0.67, 0.68, 0.69, 0.70],
         yticks=[0.63, 0.64, 0.65, 0.66, 0.67, 0.68, 0.69], fmt="{:.5f}",
         cur="0.64656", unit=["USD"], ubox=(1770, 33, 1826, 58),
         text="Australian Dollar / U.S. Dollar, 1D, FOREX.com  O0.64627  H0.64791  L0.64576  C0.64656  +0.00225 (+0.35%)",
         box=(925, 33, 1100, 56), ty=42.7),
    dict(ohlc=cu_ohlc, start=cu_start, hol=cu_holidays, y=(321.7, 582, 605), xlim=(0.0, 137.1),
         ylim=(3.809, 5.042), grid=[4.0, 4.2, 4.4, 4.6, 4.8, 5.0],
         yticks=[4.0, 4.2, 4.4, 4.6], fmt="{:.4f}",
         cur="4.0830", unit=["USD", "lb"], ubox=(1770, 327, 1826, 376),
         text="Copper Futures, 1D, COMEX  O4.0665  H4.0945  L4.0505  C4.0830  +0.0185 (+0.46%)",
         box=(925, 327, 1026, 351), ty=337.3),
    dict(ohlc=hsi_ohlc, start=hsi_start, hol=hsi_holidays, y=(616, 875, 900), xlim=(-0.5, 132.9),
         ylim=(15310, 24195), grid=[16000, 18000, 20000, 22000, 24000],
         yticks=[16000, 18000, 20000, 22000], fmt="{:,.0f}",
         cur="19,679", unit=["HKD"], ubox=(1770, 621, 1826, 646),
         text="Hang Seng Index Futures, 1D, HKEX  O19,424  H19,799  L19,404  C19,679  +260 (+1.34%)",
         box=(926, 621, 1069, 644), ty=631.5),
]

for p in panes:
    yt, yb, yend = p["y"]
    frame(922, yt, 1832, yend)
    ax = add_ax(922, yt, 1764, yb)
    ax.set_xlim(*p["xlim"])
    ax.set_ylim(*p["ylim"])
    mt = month_ticks(p["start"], p["hol"])
    for t in mt:
        ax.axvline(t, color=GRID, lw=1, zorder=0)
    for v in p["grid"]:
        ax.axhline(v, color=GRID, lw=1, zorder=0)
    draw_candles(ax, p["ohlc"])
    ax.set_xticks(mt)
    ax.set_xticklabels(month_labels)
    ax.tick_params(axis="x", length=0, pad=6, labelsize=8.3, labelcolor=TXT)
    ax.yaxis.tick_right()
    ax.set_yticks(p["yticks"])
    ax.set_yticklabels([p["fmt"].format(v) for v in p["yticks"]])
    ax.tick_params(axis="y", length=0, pad=7, labelsize=8.3, labelcolor=TXT)
    bt = blended_transform_factory(ax.transAxes, ax.transData)
    last_close = p["ohlc"][-1][3]
    ax.annotate(p["cur"], xy=(1, last_close), xycoords=bt, xytext=(2.5, 0), textcoords="offset points",
                ha="left", va="center", fontsize=8.3, color="white", fontweight="bold",
                bbox=dict(boxstyle="square,pad=0.3", fc=TXT, ec="none"), annotation_clip=False, zorder=6)
    # currency / unit box
    ux0, uy0, ux1, uy1 = p["ubox"]
    fig.add_artist(FancyBboxPatch((fx(ux0), fy(uy1)), (ux1 - ux0) / W, (uy1 - uy0) / H,
                                  boxstyle="round,pad=0,rounding_size=0.003", transform=fig.transFigure,
                                  fc="white", ec=FRAME, lw=1.0, zorder=7))
    n = len(p["unit"])
    for j, u in enumerate(p["unit"]):
        yy = uy0 + (uy1 - uy0) * (j + 0.5) / n
        fig.text(fx(ux0 + 8), fy(yy), u, fontsize=8.3, color=TXT, va="center", ha="left", zorder=8)
    # title with boxed name
    fig.text(fx(931.5), fy(p["ty"]), p["text"], fontsize=8.3, color=TXT, va="center", ha="left")
    bx0, by0, bx1, by1 = p["box"]
    sh = ScaledTranslation(3 / 100, -3 / 100, fig.dpi_scale_trans)
    fig.add_artist(Rectangle((fx(bx0), fy(by1)), (bx1 - bx0) / W, (by1 - by0) / H,
                             transform=fig.transFigure + sh, fill=False, ec="#9a9a9a", lw=2.5, alpha=0.4, zorder=8))
    fig.add_artist(Rectangle((fx(bx0), fy(by1)), (bx1 - bx0) / W, (by1 - by0) / H,
                             transform=fig.transFigure, fill=False, ec="black", lw=2.3, zorder=9))

# ---------------- big black rectangle around correlation values ----------------
fig.add_artist(Rectangle((fx(855.5), fy(858)), (900.5 - 855.5) / W, (858 - 57) / H,
                         transform=fig.transFigure, fill=False, ec="black", lw=2.6, zorder=10))

# ---------------- annotations ----------------
fig.text(fx(939), fy(230), "AUD/USD has been strongly\ncorrelated with China-linked\nvariables over the past fortnight",
         fontsize=12, family=["Liberation Sans", "DejaVu Sans"], color=TXT, va="center", ha="left", linespacing=1.12, zorder=11)
fig.text(fx(941.5), fy(716), "And has strongly inversely\ncorrelated with US Treasury yields",
         fontsize=12, family=["Liberation Sans", "DejaVu Sans"], color=TXT, va="center", ha="left", linespacing=1.12, zorder=11)


def straight_arrow(p0, p1):
    fig.add_artist(FancyArrowPatch((fx(p0[0]), fy(p0[1])), (fx(p1[0]), fy(p1[1])), transform=fig.transFigure,
                                   arrowstyle="-|>,head_length=0.55,head_width=0.3", mutation_scale=14,
                                   color="black", lw=1.9, shrinkA=0, shrinkB=0, zorder=12))


for tip in [(887, 96), (901.7, 219.3), (883.3, 335)]:
    straight_arrow((929, 245), tip)
for tip in [(900.8, 586), (902, 719.3), (896.7, 835)]:
    straight_arrow((933, 709), tip)


def curved_arrow(p0, p3):
    dx, dy = p3[0] - p0[0], p3[1] - p0[1]
    p1 = (p0[0] + 0.72 * dx, p0[1])
    p2 = (p3[0] - 0.19 * dx, p3[1] - 0.85 * dy)
    verts = [(fx(a), fy(b)) for a, b in (p0, p1, p2, p3)]
    path = Path(verts, [Path.MOVETO, Path.CURVE4, Path.CURVE4, Path.CURVE4])
    sh = ScaledTranslation(4 / 100, -4 / 100, fig.dpi_scale_trans)
    fig.add_artist(FancyArrowPatch(path=path, transform=fig.transFigure + sh,
                                   arrowstyle="-|>,head_length=0.6,head_width=0.35", mutation_scale=16,
                                   color="#8a8a8a", alpha=0.25, lw=4.5, zorder=11))
    fig.add_artist(FancyArrowPatch(path=path, transform=fig.transFigure,
                                   arrowstyle="-|>,head_length=0.6,head_width=0.35", mutation_scale=16,
                                   color="black", lw=3.8, zorder=12))


curved_arrow((1471, 43), (1721, 212))
curved_arrow((1471, 354), (1720, 520))
curved_arrow((1510, 631), (1762, 805))

fig.savefig("out.png", dpi=100)
